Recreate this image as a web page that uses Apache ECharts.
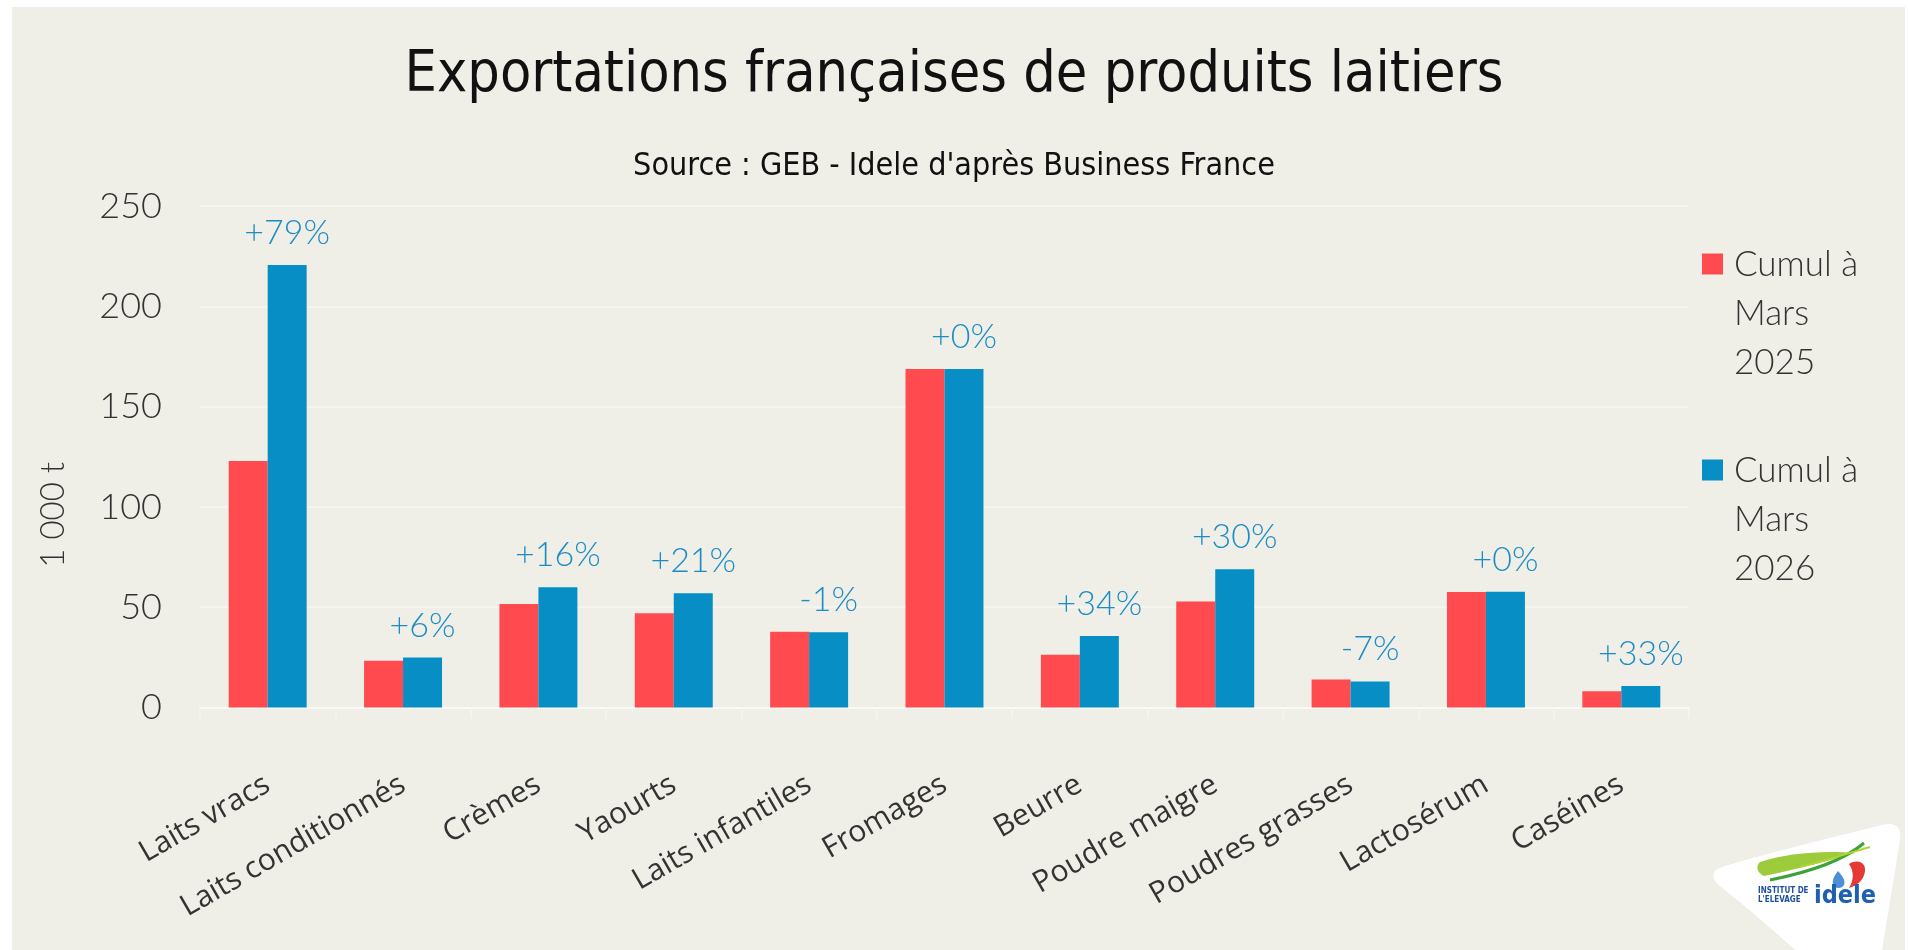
<!DOCTYPE html>
<html>
<head>
<meta charset="utf-8">
<script src="https://cdn.jsdelivr.net/npm/echarts@6/dist/echarts.min.js"></script>
<style>
  html, body { margin: 0; padding: 0; background: #ffffff; }
  #bg { position: absolute; left: 12px; top: 7px; width: 1893px; height: 943px; background: #efefe8; }
  #chart { position: absolute; left: 0; top: 0; width: 1908px; height: 950px; }
</style>
</head>
<body>
<div id="bg"></div>
<div id="chart"></div>
<script>
const titleText = "Exportations françaises de produits laitiers";
const subtitleText = "Source : GEB - Idele d'après Business France";
const yAxisName = "1 000 t";
const categories = ["Laits vracs", "Laits conditionnés", "Crèmes", "Yaourts", "Laits infantiles", "Fromages", "Beurre", "Poudre maigre", "Poudres grasses", "Lactosérum", "Caséines"];
const seriesNames = ["Cumul à Mars 2025", "Cumul à Mars 2026"];
const values2025 = [122.9, 23.3, 51.6, 47.0, 37.8, 168.8, 26.3, 52.8, 14.0, 57.6, 8.1];
const values2026 = [220.6, 24.9, 59.9, 56.9, 37.5, 168.8, 35.6, 68.9, 13.0, 57.7, 10.7];
const changeLabels = ["+79%", "+6%", "+16%", "+21%", "-1%", "+0%", "+34%", "+30%", "-7%", "+0%", "+33%"];

const RED = '#ff4a4f';
const BLUE = '#078ec5';
const LABEL_BLUE = '#1d8cc4';
const TXT = '#333333';
const NUM_FONT = 'Lato';

// logo shapes (decoration)
const logoPaths = {
  logoWhite: 'M1716,870 C1712,874 1712,880 1720,886 C1750,910 1775,932 1795,950 L1882,950 L1900,840 C1902,826 1895,822 1882,825 C1830,838 1760,855 1722,867 Z',
  logoLeaf: 'M1760,862 C1785,853 1825,850 1855,853 C1825,862 1792,870 1764,876 C1756,872 1756,866 1760,862 Z',
  logoLine1: 'M1770,880 C1805,873 1842,862 1864,843',
  logoLine2: 'M1800,867 C1825,861 1852,852 1870,847',
  logoDrop: 'M1838,871 C1842,876 1846,880 1844,885 C1842,889 1834,889 1833,884 C1832,879 1835,875 1838,871 Z',
  logoRed: 'M1849,864 C1857,859 1866,862 1865,871 C1864,880 1857,886 1849,888 C1854,880 1854,871 1849,864 Z'
};
Object.keys(logoPaths).forEach(function (k) {
  echarts.graphic.registerShape(k, echarts.graphic.extendPath(logoPaths[k], {}));
});

const chart = echarts.init(document.getElementById('chart'), null, { renderer: 'canvas' });

const legendIcon = 'path://M0,13.5H21V34.5H0Z M0,0L0.01,0Z M0,147L0.01,147Z';

const option = {
  backgroundColor: 'transparent',
  animation: false,
  title: [
    {
      text: titleText,
      left: 'center',
      top: 41,
      textStyle: { fontFamily: 'DejaVu Sans Condensed', fontSize: 57, fontWeight: 'normal', color: '#111111', lineHeight: 60 }
    },
    {
      text: subtitleText,
      left: 'center',
      top: 145,
      textStyle: { fontFamily: 'DejaVu Sans Condensed', fontSize: 32, fontWeight: 'normal', color: '#111111', lineHeight: 34 }
    }
  ],
  legend: {
    orient: 'vertical',
    left: 1697,
    top: 235,
    itemWidth: 21,
    itemHeight: 147,
    itemGap: 59,
    icon: legendIcon,
    formatter: function (name) {
      const parts = name.split(' ');
      return parts[0] + ' ' + parts[1] + '\n' + parts[2] + '\n' + parts[3];
    },
    textStyle: { fontFamily: NUM_FONT, fontWeight: 300, fontSize: 35, color: TXT, lineHeight: 49, padding: [0, 0, 0, 6] },
    data: seriesNames
  },
  grid: { left: 200, right: 219, top: 206, bottom: 242.5, containLabel: false },
  xAxis: {
    type: 'category',
    data: categories,
    axisLine: { show: true, lineStyle: { color: '#fafaf6', width: 2 } },
    axisTick: { show: true, length: 11, lineStyle: { color: '#f6f6f1', width: 1.5 } },
    axisLabel: {
      interval: 0,
      rotate: 30,
      margin: 75,
      fontFamily: 'Open Sans',
      fontSize: 30,
      color: TXT
    },
    splitLine: { show: false }
  },
  yAxis: {
    type: 'value',
    min: 0,
    max: 250,
    interval: 50,
    name: yAxisName,
    nameLocation: 'middle',
    nameGap: 130,
    nameRotate: 90,
    nameTextStyle: { fontFamily: NUM_FONT, fontWeight: 300, fontSize: 33, color: TXT, padding: [0, 116, 0, 0] },
    axisLine: { show: false },
    axisTick: { show: false },
    axisLabel: { margin: 38, fontFamily: NUM_FONT, fontWeight: 300, fontSize: 36, color: TXT },
    splitLine: { show: true, lineStyle: { color: '#f7f7f3', width: 1.5 } }
  },
  series: [
    {
      name: seriesNames[0],
      type: 'bar',
      data: values2025,
      barGap: '0%',
      barCategoryGap: '42.4%',
      itemStyle: { color: RED }
    },
    {
      name: seriesNames[1],
      type: 'bar',
      data: values2026,
      barGap: '0%',
      barCategoryGap: '42.4%',
      itemStyle: { color: BLUE },
      label: {
        show: true,
        position: 'top',
        distance: 15,
        fontFamily: NUM_FONT,
        fontWeight: 300,
        fontSize: 34,
        color: LABEL_BLUE,
        formatter: function (p) { return changeLabels[p.dataIndex]; }
      }
    }
  ],
  graphic: [
    {
      type: 'group',
      silent: true,
      children: [
        { type: 'logoWhite', style: { fill: '#ffffff' } },
        { type: 'logoLeaf', style: { fill: '#9ccc3c' } },
        { type: 'logoLine1', style: { fill: 'none', stroke: '#3da336', lineWidth: 3 } },
        { type: 'logoLine2', style: { fill: 'none', stroke: '#b5d334', lineWidth: 2 } },
        { type: 'logoDrop', style: { fill: '#4b8fd6' } },
        { type: 'logoRed', style: { fill: '#e53935' } },
        { type: 'text', x: 1758, y: 887, style: { text: 'INSTITUT DE', fontFamily: 'DejaVu Sans Condensed', fontWeight: 'bold', fontSize: 8, fill: '#1d4f9c' } },
        { type: 'text', x: 1758, y: 896, style: { text: "L'ELEVAGE", fontFamily: 'DejaVu Sans Condensed', fontWeight: 'bold', fontSize: 8, fill: '#1d4f9c' } },
        { type: 'text', x: 1814, y: 884, style: { text: 'idele', fontFamily: 'DejaVu Sans Condensed', fontWeight: 'bold', fontSize: 25, fill: '#1d5fb0' } }
      ]
    }
  ]
};

chart.setOption(option);
</script>
</body>
</html>
